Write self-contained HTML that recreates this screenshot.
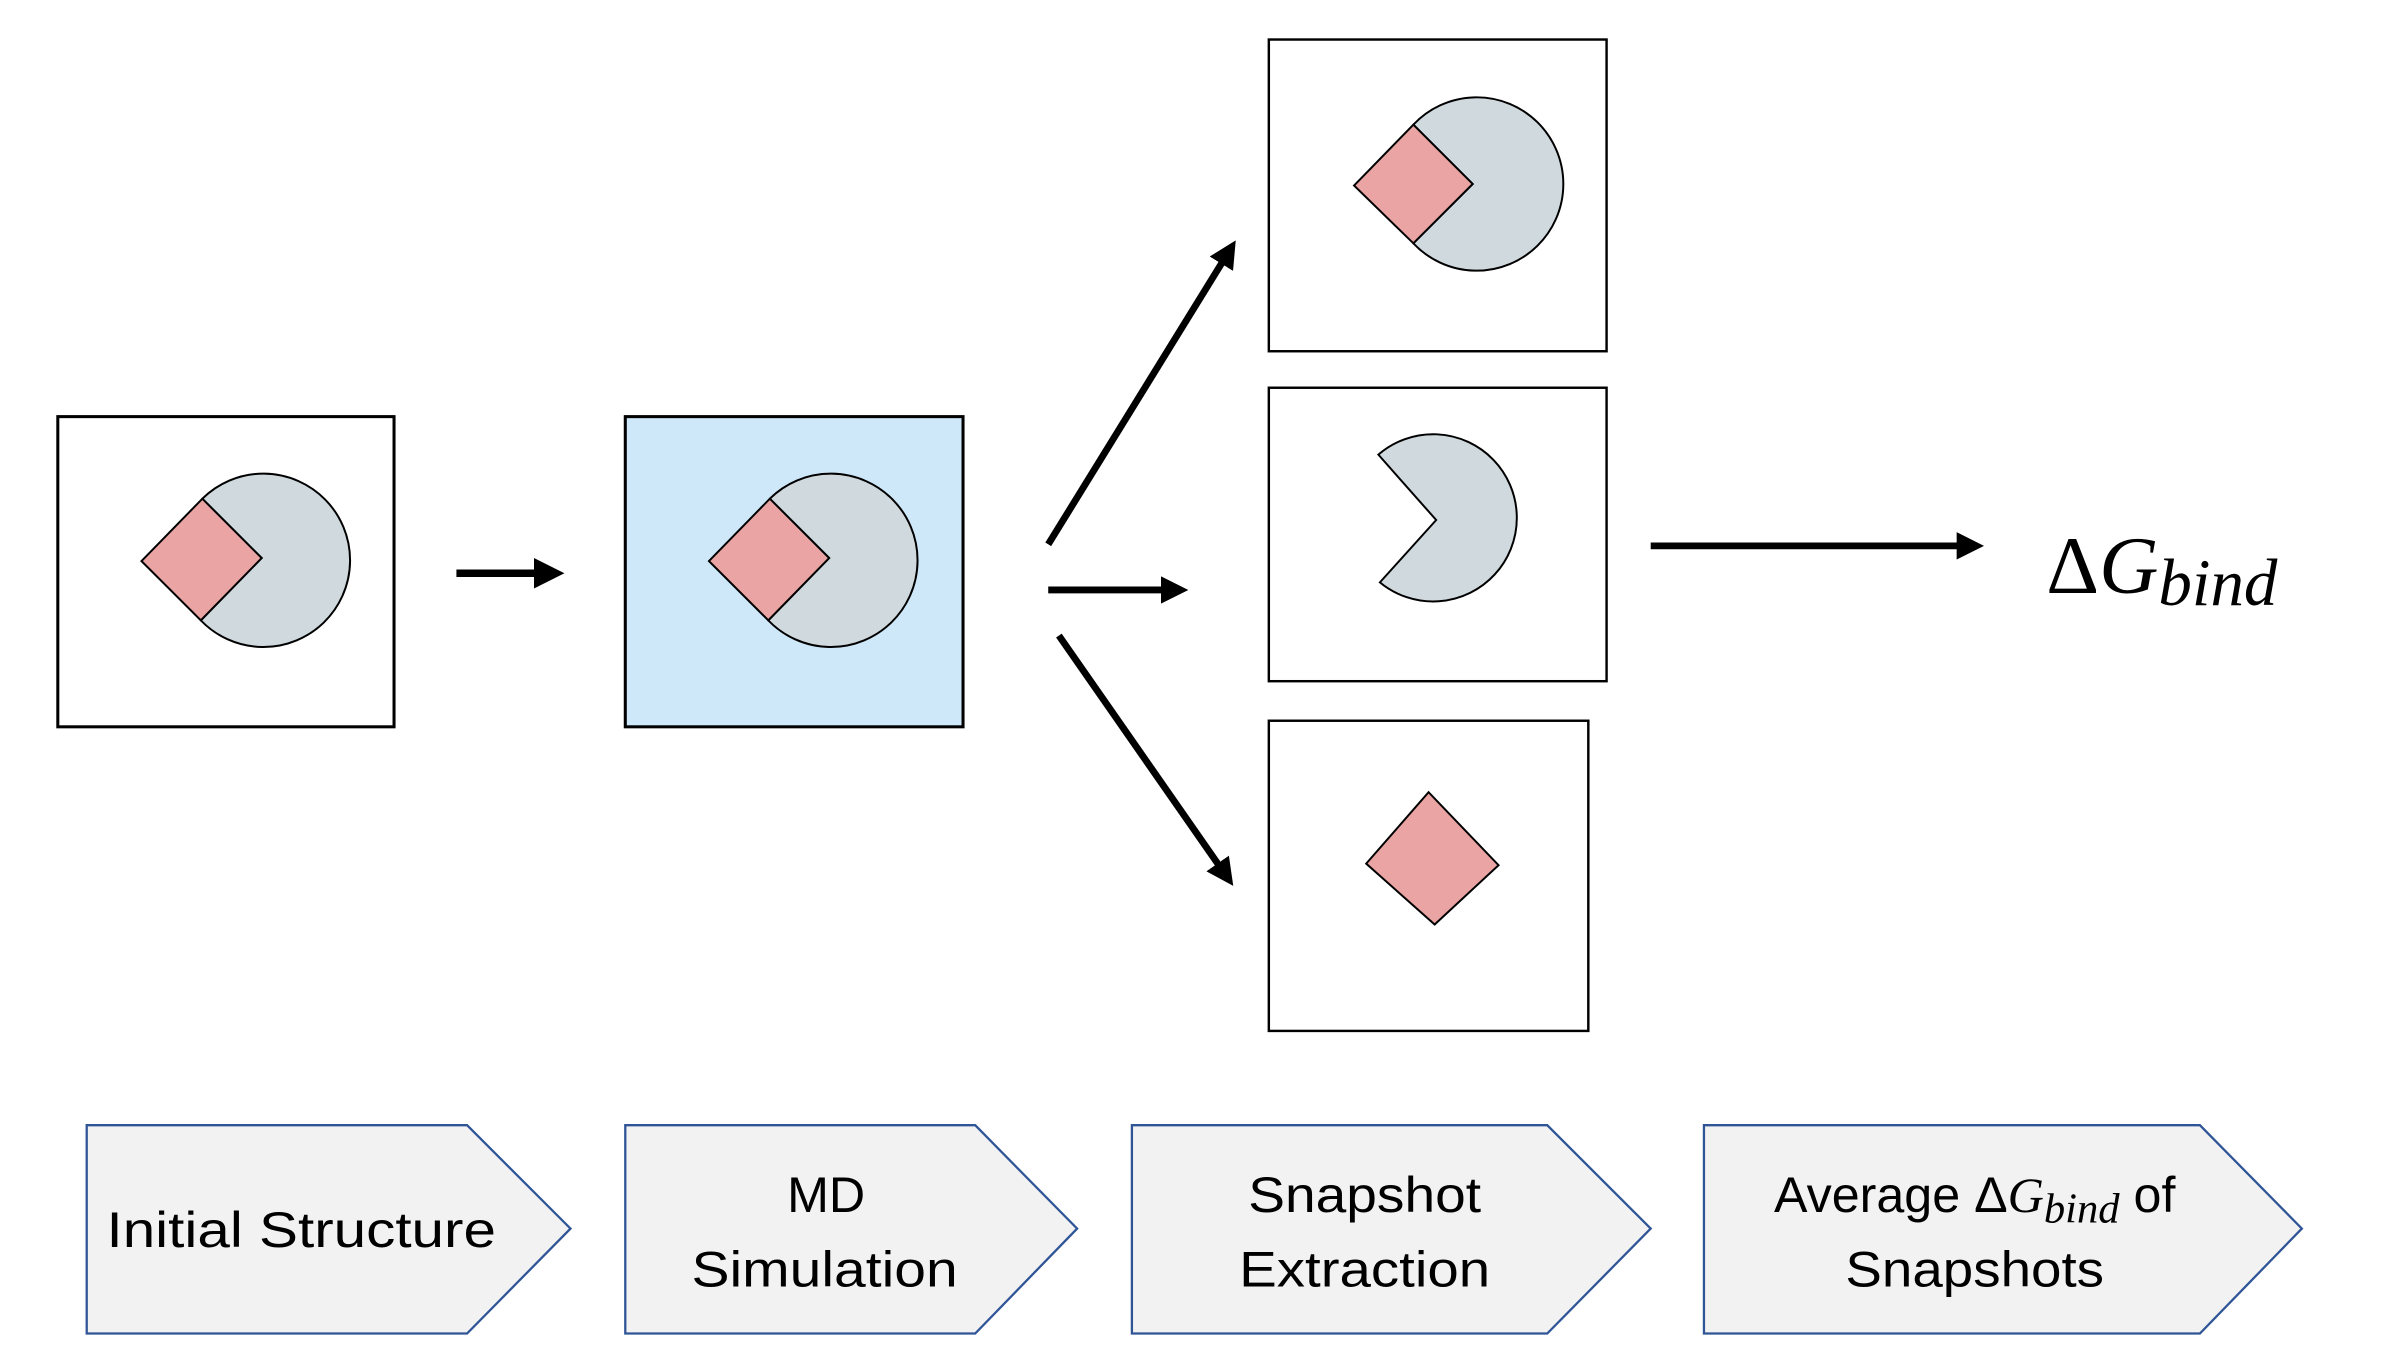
<!DOCTYPE html>
<html><head><meta charset="utf-8"><style>
html,body{margin:0;padding:0;background:#fff;}
svg{display:block;}
</style></head><body>
<svg width="2384" height="1370" viewBox="0 0 1567 901" preserveAspectRatio="none" xmlns="http://www.w3.org/2000/svg">
<defs>
<marker id="ah" markerWidth="4" markerHeight="4" refX="2.2" refY="2" orient="auto" markerUnits="strokeWidth">
<path d="M0,0 L4,2 L0,4 z" fill="#000"/>
</marker>
</defs>
<rect width="1567" height="901" fill="#fff"/>
<rect x="38" y="274" width="221" height="204" fill="#fff" stroke="#000" stroke-width="2"/>
<path d="M133,328 A57,57 0 1 1 132,408 L172,367 Z" fill="#d0dade" stroke="#000" stroke-width="1.3"/>
<path d="M93,369 L133,328 L172,367 L132,408 Z" fill="#eaa4a4" stroke="#000" stroke-width="1.3"/>
<rect x="411" y="274" width="222" height="204" fill="#cfe8f9" stroke="#000" stroke-width="2"/>
<path d="M506,328 A57,57 0 1 1 505,408 L545,367 Z" fill="#d0dade" stroke="#000" stroke-width="1.3"/>
<path d="M466,369 L506,328 L545,367 L505,408 Z" fill="#eaa4a4" stroke="#000" stroke-width="1.3"/>
<line x1="300" y1="377" x2="362" y2="377" stroke="#000" stroke-width="5" marker-end="url(#ah)"/>
<rect x="834" y="26" width="222" height="205" fill="#fff" stroke="#000" stroke-width="1.6"/>
<path d="M929,82 A57,57 0 1 1 929,160 L968,121 Z" fill="#d0dade" stroke="#000" stroke-width="1.3"/>
<path d="M890,122 L929,82 L968,121 L929,160 Z" fill="#eaa4a4" stroke="#000" stroke-width="1.3"/>
<rect x="834" y="255" width="222" height="193" fill="#fff" stroke="#000" stroke-width="1.6"/>
<path d="M906,299 A55,55 0 1 1 907,383 L944,342 Z" fill="#d0dade" stroke="#000" stroke-width="1.3"/>
<rect x="834" y="474" width="210" height="204" fill="#fff" stroke="#000" stroke-width="1.6"/>
<path d="M898,568 L939,521 L985,569 L943,608 Z" fill="#eaa4a4" stroke="#000" stroke-width="1.3"/>
<line x1="689" y1="358" x2="808" y2="165" stroke="#000" stroke-width="4.5" marker-end="url(#ah)"/>
<line x1="689" y1="388" x2="773" y2="388" stroke="#000" stroke-width="4.5" marker-end="url(#ah)"/>
<line x1="696" y1="418" x2="806" y2="576" stroke="#000" stroke-width="4.5" marker-end="url(#ah)"/>
<line x1="1085" y1="359" x2="1296" y2="359" stroke="#000" stroke-width="4.5" marker-end="url(#ah)"/>
<text x="1345" y="390" font-family="Liberation Serif, serif" font-size="54" fill="#000">Δ<tspan font-style="italic">G</tspan><tspan font-style="italic" font-size="44" dy="8">bind</tspan></text>
<g fill="#f2f2f2" stroke="#2f5597" stroke-width="1.5">
<path d="M57,740 L307,740 L375,808 L307,877 L57,877 Z"/>
<path d="M411,740 L641,740 L708,808 L641,877 L411,877 Z"/>
<path d="M744,740 L1017,740 L1085,808 L1017,877 L744,877 Z"/>
<path d="M1120,740 L1446,740 L1513,808 L1446,877 L1120,877 Z"/>
</g>
<g font-family="Liberation Sans, sans-serif" font-size="33" fill="#000" text-anchor="middle">
<text x="198" y="820" textLength="256" lengthAdjust="spacingAndGlyphs">Initial Structure</text>
<text x="543" y="797">MD</text>
<text x="542" y="846" textLength="175" lengthAdjust="spacingAndGlyphs">Simulation</text>
<text x="897" y="797" textLength="153" lengthAdjust="spacingAndGlyphs">Snapshot</text>
<text x="897" y="846" textLength="165" lengthAdjust="spacingAndGlyphs">Extraction</text>
<text x="1298" y="797">Average Δ<tspan font-family="Liberation Serif, serif" font-style="italic">G</tspan><tspan font-family="Liberation Serif, serif" font-style="italic" font-size="28" dy="7">bind</tspan><tspan dy="-7"> of</tspan></text>
<text x="1298" y="846" textLength="170" lengthAdjust="spacingAndGlyphs">Snapshots</text>
</g>
</svg>
</body></html>
